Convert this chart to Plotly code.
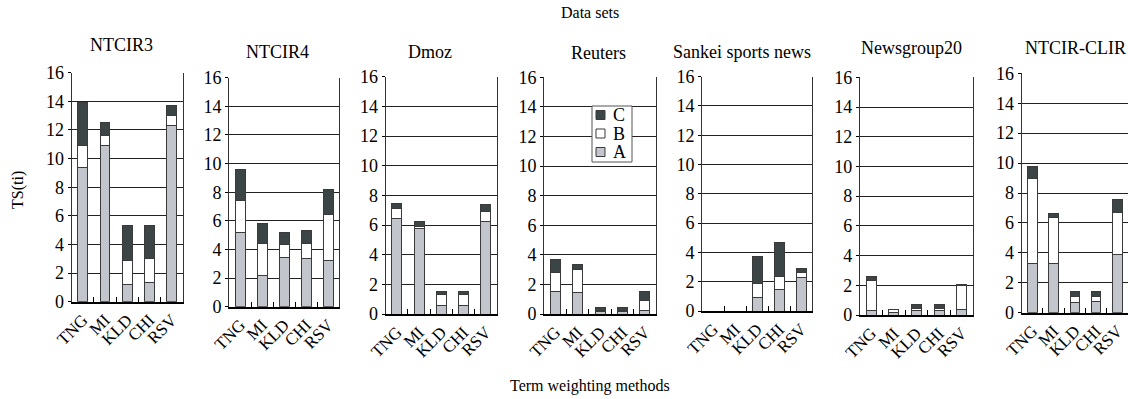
import plotly.graph_objects as go

# Term weighting methods (x categories) and data sets (one panel each)
methods = ["TNG", "MI", "KLD", "CHI", "RSV"]
datasets = ["NTCIR3", "NTCIR4", "Dmoz", "Reuters",
            "Sankei sports news", "Newsgroup20", "NTCIR-CLIR"]

# Stacked segment heights of TS(ti) per data set: A (bottom), B (middle), C (top)
ntcir3_a = [9.4, 10.9, 1.2, 1.35, 12.3]
ntcir3_b = [1.5, 0.7, 1.7, 1.7, 0.7]
ntcir3_c = [3.0, 0.9, 2.45, 2.3, 0.7]

ntcir4_a = [5.2, 2.2, 3.45, 3.4, 3.25]
ntcir4_b = [2.2, 2.2, 0.9, 1.0, 3.2]
ntcir4_c = [2.2, 1.4, 0.85, 0.95, 1.75]

dmoz_a = [6.45, 5.75, 0.55, 0.55, 6.25]
dmoz_b = [0.65, 0.15, 0.75, 0.75, 0.65]
dmoz_c = [0.35, 0.35, 0.25, 0.25, 0.5]

reuters_a = [1.5, 1.45, 0.15, 0.15, 0.25]
reuters_b = [1.3, 1.55, 0.12, 0.12, 0.65]
reuters_c = [0.9, 0.35, 0.18, 0.18, 0.6]

sankei_a = [0, 0, 0.95, 1.5, 2.3]
sankei_b = [0, 0, 0.9, 0.85, 0.3]
sankei_c = [0, 0, 1.85, 2.3, 0.3]

news20_a = [0.27, 0.2, 0.27, 0.27, 0.4]
news20_b = [2.05, 0.2, 0.18, 0.2, 1.6]
news20_c = [0.25, 0, 0.29, 0.27, 0.05]

clir_a = [3.3, 3.3, 0.65, 0.72, 3.9]
clir_b = [5.7, 3.05, 0.45, 0.38, 2.8]
clir_c = [0.75, 0.3, 0.3, 0.3, 0.85]

y_ticks = [0, 2, 4, 6, 8, 10, 12, 14, 16]
segment_names = ["A", "B", "C"]

series_a = [ntcir3_a, ntcir4_a, dmoz_a, reuters_a, sankei_a, news20_a, clir_a]
series_b = [ntcir3_b, ntcir4_b, dmoz_b, reuters_b, sankei_b, news20_b, clir_b]
series_c = [ntcir3_c, ntcir4_c, dmoz_c, reuters_c, sankei_c, news20_c, clir_c]

W, H = 1128, 399
FONT = "Liberation Serif"

# Panel boxes in pixels: (left, right, top, bottom)
boxes = [
    (71.7, 182.7, 72.7, 301.7),
    (229.3, 339.3, 77.7, 306.7),
    (385.7, 497.0, 76.7, 314.0),
    (544.3, 656.0, 77.3, 314.0),
    (702.3, 812.3, 76.7, 311.0),
    (860.0, 973.0, 77.3, 315.0),
    (1021.7, 1128.0, 73.3, 312.7),
]
title_pos = [(121, 45), (277, 52), (430, 52), (598, 53),
             (742, 52), (912, 48), (1075, 48)]

colors = {"A": "#c3c5cc", "B": "#ffffff", "C": "#3b4545"}
edge = "#3a3a3a"


def px_x(v):
    return v / W


def px_y(v):
    return 1 - v / H


def label(text, x, y, size, **kw):
    return dict(text=text, x=px_x(x), y=px_y(y), xref="paper", yref="paper",
                showarrow=False, xanchor=kw.pop("xanchor", "center"),
                yanchor="middle", font=dict(family=FONT, size=size), **kw)


fig = go.Figure()
layout = dict(
    template="none",
    width=W, height=H, margin=dict(l=0, r=0, t=0, b=0, autoexpand=False),
    paper_bgcolor="white", plot_bgcolor="white",
    barmode="stack", bargap=0.55,
    font=dict(family=FONT, size=17, color="black"),
    showlegend=False,
)
annotations = []
shapes = []

for i, name in enumerate(datasets):
    k = "" if i == 0 else str(i + 1)
    xa, ya = "x" + k, "y" + k
    for seg, vals in zip(segment_names,
                         (series_a[i], series_b[i], series_c[i])):
        fig.add_trace(go.Bar(
            x=methods, y=vals, name=seg, xaxis=xa, yaxis=ya,
            marker=dict(color=colors[seg], line=dict(color=edge, width=1)),
        ))
    l, r, t, b = boxes[i]
    layout["xaxis" + k] = dict(
        domain=[px_x(l), min(px_x(r), 1.0)], anchor=ya,
        type="category", range=[-0.5, 4.5], automargin=False,
        showline=True, linecolor="black", linewidth=1.5,
        ticks="inside", tickson="boundaries", ticklen=5,
        tickcolor="black", tickwidth=1,
        tickangle=-45, tickfont=dict(family=FONT, size=17),
        showgrid=False, zeroline=False, fixedrange=True,
    )
    layout["yaxis" + k] = dict(
        domain=[px_y(b), px_y(t)], anchor=xa, automargin=False,
        range=[0, 16], tickvals=y_ticks,
        showline=True, linecolor="#333", linewidth=1.2, mirror=True,
        ticks="outside", ticklen=3, tickcolor="black",
        showgrid=True, gridcolor="#222", gridwidth=1,
        zeroline=False, tickfont=dict(family=FONT, size=18),
        fixedrange=True,
    )
    annotations.append(label(name, title_pos[i][0], title_pos[i][1], 18))

annotations += [
    label("Data sets", 590, 13, 16),
    label("Term weighting methods", 590, 386, 16),
    label("TS(ti)", 18, 190, 16, textangle=-90),
]

# Key box for the three stacked segments (C on top, A at the bottom)
key_left, key_right, key_top, key_bottom = 592, 632, 106, 162
shapes.append(dict(type="rect", xref="paper", yref="paper",
                   x0=px_x(key_left), x1=px_x(key_right),
                   y0=px_y(key_bottom), y1=px_y(key_top),
                   line=dict(color="#555", width=1), fillcolor="white",
                   layer="above"))
for j, seg in enumerate(reversed(segment_names)):
    cy = 115 + j * 18.5
    shapes.append(dict(type="rect", xref="paper", yref="paper",
                       x0=px_x(596), x1=px_x(605),
                       y0=px_y(cy + 4.5), y1=px_y(cy - 4.5),
                       line=dict(color=edge, width=1),
                       fillcolor=colors[seg], layer="above"))
    annotations.append(label(seg, 611, cy, 18, xanchor="left"))

layout["annotations"] = annotations
layout["shapes"] = shapes
fig.update_layout(**layout)

fig.write_html("out.html")
